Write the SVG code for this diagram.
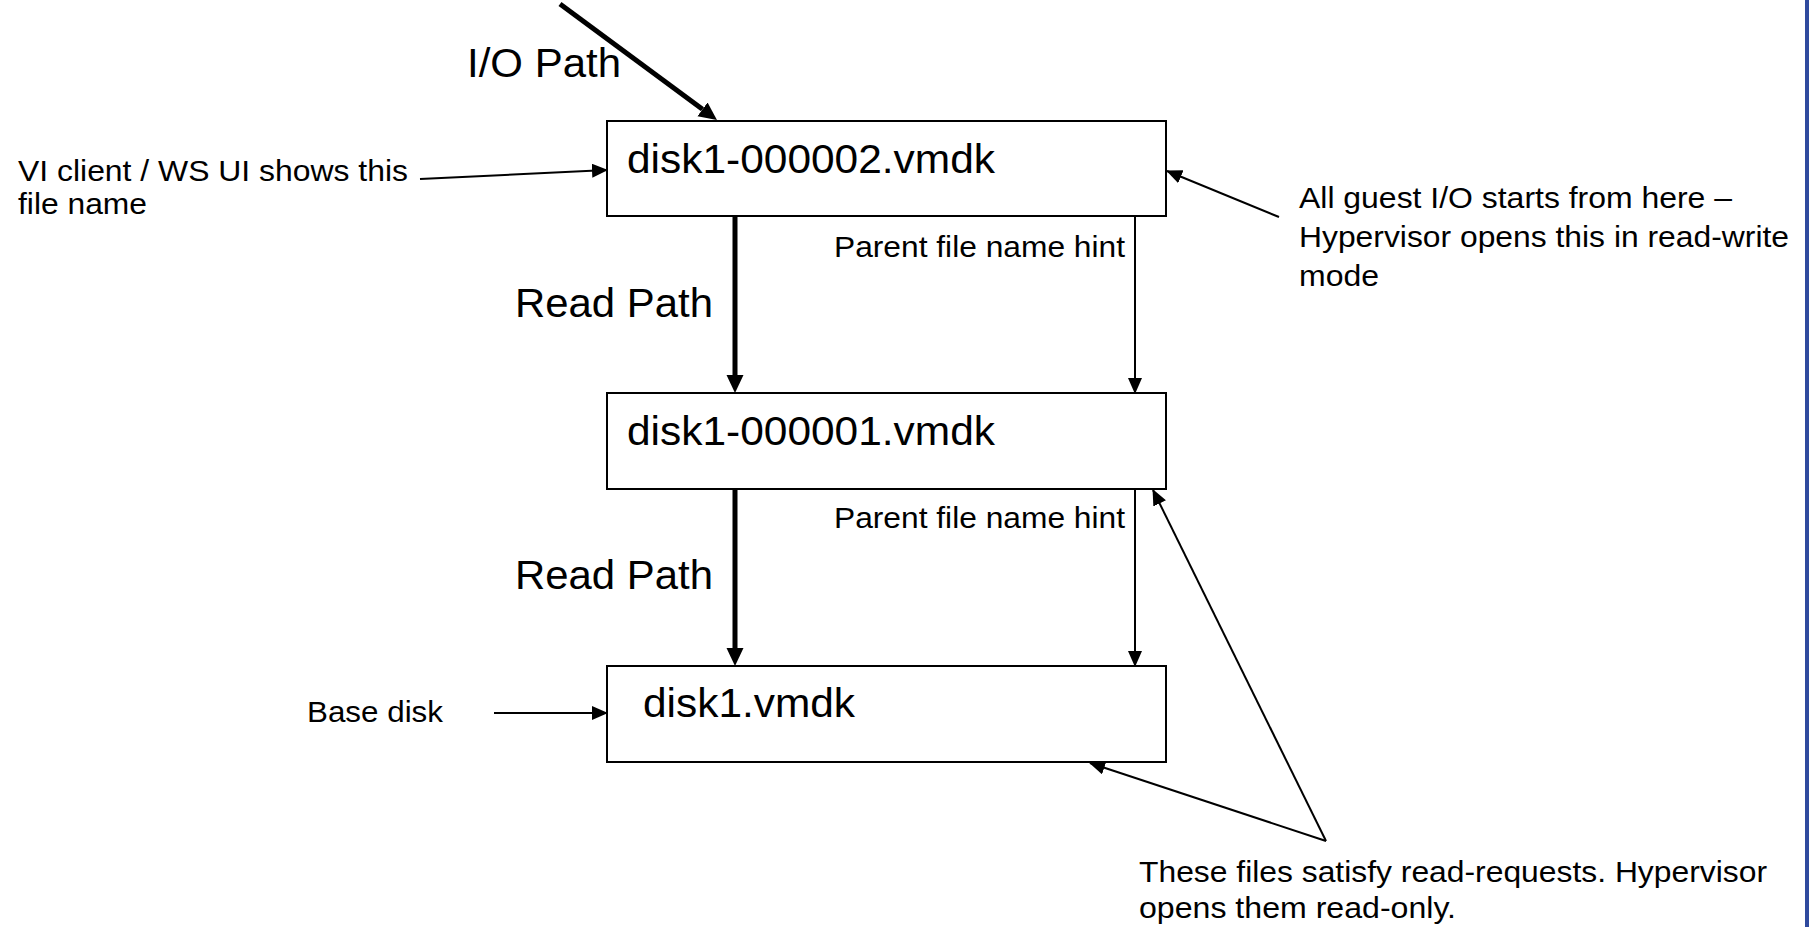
<svg xmlns="http://www.w3.org/2000/svg" width="1809" height="927" viewBox="0 0 1809 927">
<style>
.box{fill:#fff;stroke:#000;stroke-width:2}
.big{font-family:"Liberation Sans",Arial,sans-serif;font-size:41px;fill:#000}
.sm{font-family:"Liberation Sans",Arial,sans-serif;font-size:30px;fill:#000}
.thick{stroke:#000;stroke-width:5;fill:none}
.thin{stroke:#000;stroke-width:2;fill:none}
</style>
<defs>
<marker id="ah" markerUnits="userSpaceOnUse" markerWidth="18" markerHeight="18" refX="0" refY="8.5" orient="auto">
<path d="M0,0 L18,8.5 L0,17 z" fill="#000"/>
</marker>
<marker id="at" markerUnits="userSpaceOnUse" markerWidth="16" markerHeight="16" refX="15" refY="7" orient="auto">
<path d="M0,0 L16,7 L0,14 z" fill="#000"/>
</marker>
</defs>
<rect width="1809" height="927" fill="#fff"/>
<rect x="1805" y="0" width="4" height="927" fill="#2f4a9e"/>

<g id="connectors">
<line class="thick" x1="560" y1="4" x2="702.5" y2="109.3" marker-end="url(#ah)"/>
<line class="thick" x1="735" y1="217" x2="735" y2="375" marker-end="url(#ah)"/>
<line class="thick" x1="735" y1="489" x2="735" y2="648" marker-end="url(#ah)"/>
<line class="thin" x1="1135" y1="216" x2="1135" y2="393" marker-end="url(#at)"/>
<line class="thin" x1="1135" y1="489" x2="1135" y2="666" marker-end="url(#at)"/>
<line class="thin" x1="420" y1="179" x2="607" y2="170" marker-end="url(#at)"/>
<line class="thin" x1="1279" y1="217" x2="1167" y2="171" marker-end="url(#at)"/>
<line class="thin" x1="494" y1="713" x2="607" y2="713" marker-end="url(#at)"/>
<line class="thin" x1="1326" y1="841" x2="1153" y2="490" marker-end="url(#at)"/>
<line class="thin" x1="1326" y1="841" x2="1090" y2="763" marker-end="url(#at)"/>
</g>

<g id="box1">
<rect class="box" x="607" y="121" width="559" height="95"/>
<text class="big" x="627" y="173" textLength="368" lengthAdjust="spacingAndGlyphs">disk1-000002.vmdk</text>
</g>
<g id="box2">
<rect class="box" x="607" y="393" width="559" height="96"/>
<text class="big" x="627" y="445" textLength="368" lengthAdjust="spacingAndGlyphs">disk1-000001.vmdk</text>
</g>
<g id="box3">
<rect class="box" x="607" y="666" width="559" height="96"/>
<text class="big" x="643" y="717" textLength="212" lengthAdjust="spacingAndGlyphs">disk1.vmdk</text>
</g>

<g id="labels">
<text class="big" x="467" y="77" textLength="154" lengthAdjust="spacingAndGlyphs">I/O Path</text>
<text class="big" x="515" y="317" textLength="198" lengthAdjust="spacingAndGlyphs">Read Path</text>
<text class="big" x="515" y="589" textLength="198" lengthAdjust="spacingAndGlyphs">Read Path</text>
<text class="sm" x="834" y="257" textLength="291" lengthAdjust="spacingAndGlyphs">Parent file name hint</text>
<text class="sm" x="834" y="528" textLength="291" lengthAdjust="spacingAndGlyphs">Parent file name hint</text>
<text class="sm" x="18" y="181" textLength="390" lengthAdjust="spacingAndGlyphs">VI client / WS UI shows this</text>
<text class="sm" x="18" y="214" textLength="129" lengthAdjust="spacingAndGlyphs">file name</text>
<text class="sm" x="1299" y="208" textLength="433" lengthAdjust="spacingAndGlyphs">All guest I/O starts from here –</text>
<text class="sm" x="1299" y="247" textLength="490" lengthAdjust="spacingAndGlyphs">Hypervisor opens this in read-write</text>
<text class="sm" x="1299" y="286" textLength="80" lengthAdjust="spacingAndGlyphs">mode</text>
<text class="sm" x="307" y="722" textLength="136" lengthAdjust="spacingAndGlyphs">Base disk</text>
<text class="sm" x="1139" y="882" textLength="628" lengthAdjust="spacingAndGlyphs">These files satisfy read-requests. Hypervisor</text>
<text class="sm" x="1139" y="918" textLength="317" lengthAdjust="spacingAndGlyphs">opens them read-only.</text>
</g>
</svg>
